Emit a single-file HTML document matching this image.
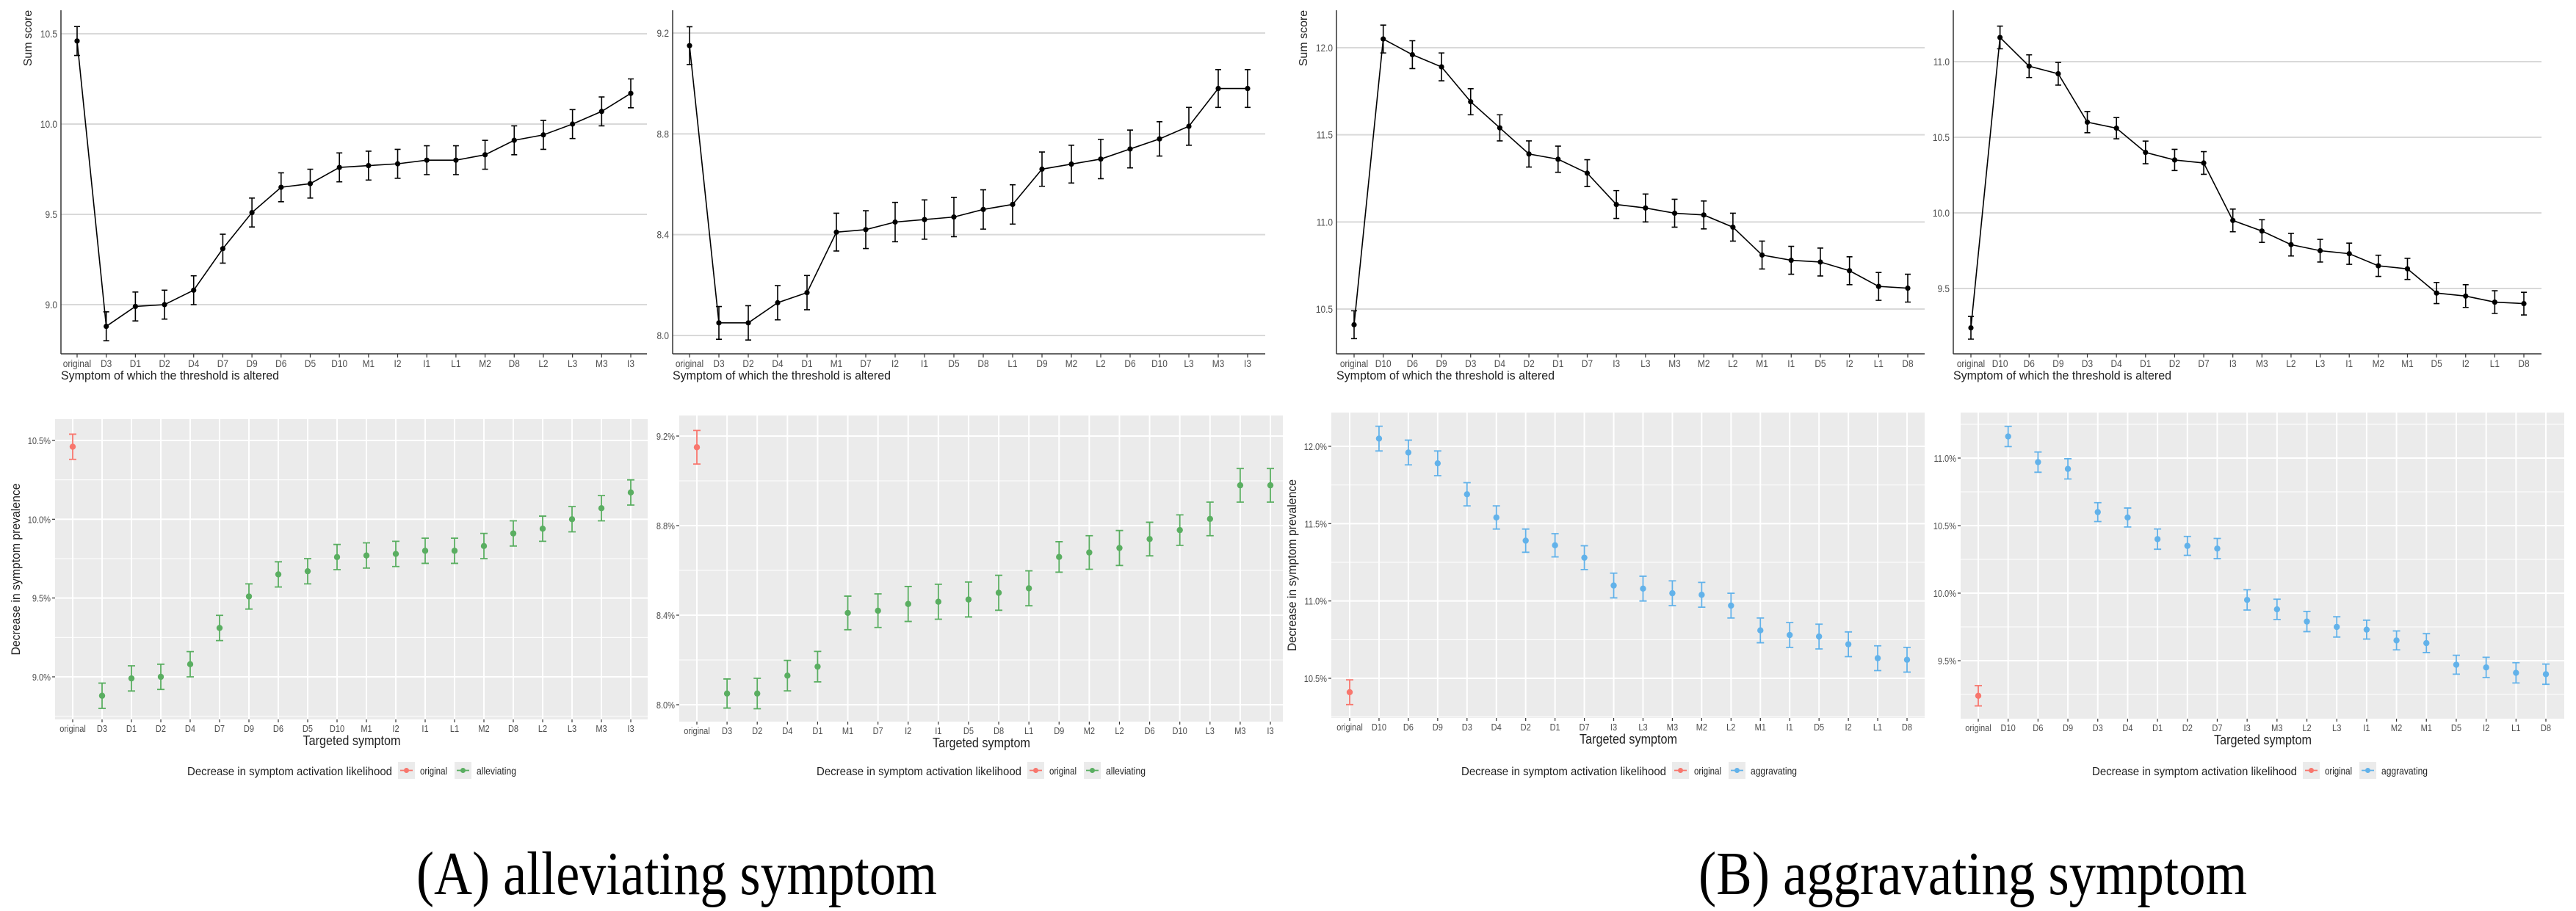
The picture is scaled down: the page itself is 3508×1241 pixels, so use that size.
<!DOCTYPE html>
<html><head><meta charset="utf-8">
<style>
html,body{margin:0;padding:0;background:#fff;}
svg{display:block;}
text{font-family:"Liberation Sans Narrow","Liberation Sans",sans-serif;}
</style></head>
<body>
<svg id="fig" width="3508" height="1241" viewBox="0 0 3508 1241" xmlns="http://www.w3.org/2000/svg">
<text x="567" y="1218" style="font-family:'Liberation Serif',serif" font-size="84" textLength="709" lengthAdjust="spacingAndGlyphs">(A) alleviating symptom</text>
<text x="2313" y="1218" style="font-family:'Liberation Serif',serif" font-size="84" textLength="747" lengthAdjust="spacingAndGlyphs">(B) aggravating symptom</text>
</svg>
<script>
// ---- data ----
const cats1 = ["original","D3","D1","D2","D4","D7","D9","D6","D5","D10","M1","I2","I1","L1","M2","D8","L2","L3","M3","I3"];
const vals1 = [10.46,8.88,8.99,9.00,9.08,9.31,9.51,9.65,9.67,9.76,9.77,9.78,9.80,9.80,9.83,9.91,9.94,10.00,10.07,10.17];
const errs1 = [0.08,0.08,0.08,0.08,0.08,0.08,0.08,0.08,0.08,0.08,0.08,0.08,0.08,0.08,0.08,0.08,0.08,0.08,0.08,0.08];

const cats2 = ["original","D3","D2","D4","D1","M1","D7","I2","I1","D5","D8","L1","D9","M2","L2","D6","D10","L3","M3","I3"];
const vals2 = [9.15,8.05,8.05,8.13,8.17,8.41,8.42,8.45,8.46,8.47,8.50,8.52,8.66,8.68,8.70,8.74,8.78,8.83,8.98,8.98];
const errs2 = [0.075,0.065,0.068,0.068,0.068,0.075,0.075,0.078,0.078,0.078,0.078,0.078,0.068,0.075,0.078,0.075,0.068,0.075,0.075,0.075];

const cats3 = ["original","D10","D6","D9","D3","D4","D2","D1","D7","I3","L3","M3","M2","L2","M1","I1","D5","I2","L1","D8"];
const vals3 = [10.41,12.05,11.96,11.89,11.69,11.54,11.39,11.36,11.28,11.10,11.08,11.05,11.04,10.97,10.81,10.78,10.77,10.72,10.63,10.62];
const errs3 = [0.08,0.08,0.08,0.08,0.075,0.075,0.075,0.075,0.077,0.08,0.08,0.08,0.08,0.08,0.08,0.08,0.08,0.08,0.08,0.08];

const cats4 = ["original","D10","D6","D9","D3","D4","D1","D2","D7","I3","M3","L2","L3","I1","M2","M1","D5","I2","L1","D8"];
const vals4 = [9.24,11.16,10.97,10.92,10.60,10.56,10.40,10.35,10.33,9.95,9.88,9.79,9.75,9.73,9.65,9.63,9.47,9.45,9.41,9.40];
const errs4 = [0.075,0.075,0.075,0.075,0.07,0.07,0.075,0.07,0.075,0.075,0.075,0.075,0.075,0.07,0.07,0.07,0.07,0.075,0.075,0.075];

const ticksTop1 = [9.0,9.5,10.0,10.5];
const ticksTop2 = [8.0,8.4,8.8,9.2];
const ticksTop3 = [10.5,11.0,11.5,12.0];
const ticksTop4 = [9.5,10.0,10.5,11.0];
const tickLabels1 = ["9.0","9.5","10.0","10.5"];
const tickLabels2 = ["8.0","8.4","8.8","9.2"];
const tickLabels3 = ["10.5","11.0","11.5","12.0"];
const tickLabels4 = ["9.5","10.0","10.5","11.0"];
const pctLabels1 = ["9.0%","9.5%","10.0%","10.5%"];
const pctLabels2 = ["8.0%","8.4%","8.8%","9.2%"];
const pctLabels3 = ["10.5%","11.0%","11.5%","12.0%"];
const pctLabels4 = ["9.5%","10.0%","10.5%","11.0%"];
const seriesNames = ["alleviating","alleviating","aggravating","aggravating"];

const NS = "http://www.w3.org/2000/svg";
const svg = document.getElementById("fig");
function mk(tag, attrs, parent){
  const e = document.createElementNS(NS, tag);
  for (const k in attrs) e.setAttribute(k, attrs[k]);
  (parent||svg).appendChild(e);
  return e;
}
function scaleY(v0,p0,v1,p1){ return v => p0 + (v - v0)*(p1 - p0)/(v1 - v0); }
function scaleX(x0,x1,n){ return i => x0 + i*(x1 - x0)/(n - 1); }
const SQ = "scale(0.85,1)";

// ---- top panels (line charts) ----
function drawTop(c, cats, vals, errs, ticks, labels){
  const g = mk("g", {});
  
  
  const y = scaleY(ticks[0], c.pLo, ticks[ticks.length-1], c.pHi);
  const x = scaleX(c.x0, c.x1, cats.length);
  ticks.forEach((t,i) => {
    const gl = mk("line", {x1:c.ax, x2:c.xEnd, y1:y(t), y2:y(t), stroke:"#d9d9d9", "stroke-width":2}, g);
    
    
    const tl = mk("text", {x:(c.ax-5)/0.85, y:y(t)+5, "text-anchor":"end", "font-size":14, fill:"#4d4d4d", transform:SQ}, g);
    tl.textContent = labels[i];
    
    
  });
  const ya = mk("line", {x1:c.ax, x2:c.ax, y1:14, y2:482, stroke:"#333", "stroke-width":1.5}, g);
  
  
  const xa = mk("line", {x1:c.ax, x2:c.xEnd, y1:482, y2:482, stroke:"#333", "stroke-width":1.5}, g);
  
  
  let d = "";
  vals.forEach((v,i) => { d += (i ? "L" : "M") + x(i) + "," + y(v); });
  const path = mk("path", {d:d, fill:"none", stroke:"#000", "stroke-width":1.6}, g);
  
  
  vals.forEach((v,i) => {
    const xi = x(i), lo = y(v - errs[i]), hi = y(v + errs[i]);
    const eb = mk("path", {d:`M${xi},${lo}V${hi}M${xi-4},${lo}H${xi+4}M${xi-4},${hi}H${xi+4}`, stroke:"#000", "stroke-width":1.6, fill:"none"}, g);
    
    
    const pt = mk("circle", {cx:xi, cy:y(v), r:3.6, fill:"#000"}, g);
    
    
    const tk = mk("line", {x1:xi, x2:xi, y1:482, y2:487, stroke:"#333", "stroke-width":1.2}, g);
    
    
    const lb = mk("text", {x:xi/0.85, y:500, "text-anchor":"middle", "font-size":14, fill:"#4d4d4d", transform:SQ}, g);
    lb.textContent = cats[i];
    
    
  });
  const xt = mk("text", {x:c.ax, y:517, "font-size":17, fill:"#222", textLength:297, lengthAdjust:"spacingAndGlyphs"}, g);
  xt.textContent = "Symptom of which the threshold is altered";
  
  
  if (c.ytitle){
    const yt = mk("text", {x:0, y:0, "font-size":16, fill:"#222", "text-anchor":"middle", transform:`translate(${c.ax-40},52) rotate(-90)`, style:"font-family:'Liberation Sans',sans-serif"}, g);
    yt.textContent = "Sum score";
    
    
  }
}

// ---- bottom panels (ggplot point charts) ----
function drawBottom(c, cats, vals, errs, ticks, labels, sname){
  const g = mk("g", {});
  
  
  const y = scaleY(ticks[0], c.pLo, ticks[ticks.length-1], c.pHi);
  const x = scaleX(c.x0, c.x1, cats.length);
  const col = sname === "alleviating" ? "#5aae61" : "#62b2ea";
  const bg = mk("rect", {x:c.bx0, y:c.by0, width:c.bx1-c.bx0, height:c.by1-c.by0, fill:"#ebebeb"}, g);
  
  
  const step = ticks[1] - ticks[0];
  for (let k = -2; k < ticks.length + 2; k++){
    const yy = y(ticks[0] + (k + 0.5)*step);
    if (yy > c.by0 && yy < c.by1){
      const mg = mk("line", {x1:c.bx0, x2:c.bx1, y1:yy, y2:yy, stroke:"#fff", "stroke-width":1}, g);
      
      
    }
  }
  ticks.forEach((t,i) => {
    const gl = mk("line", {x1:c.bx0, x2:c.bx1, y1:y(t), y2:y(t), stroke:"#fff", "stroke-width":2}, g);
    
    
    const tk = mk("line", {x1:c.bx0-4, x2:c.bx0, y1:y(t), y2:y(t), stroke:"#333", "stroke-width":1.2}, g);
    
    
    const tl = mk("text", {x:(c.bx0-6)/0.85, y:y(t)+5, "text-anchor":"end", "font-size":13, fill:"#4d4d4d", transform:SQ}, g);
    tl.textContent = labels[i];
    
    
  });
  cats.forEach((cat,i) => {
    const xi = x(i);
    const vg = mk("line", {x1:xi, x2:xi, y1:c.by0, y2:c.by1, stroke:"#fff", "stroke-width":2}, g);
    
    
  });
  vals.forEach((v,i) => {
    const xi = x(i), lo = y(v - errs[i]), hi = y(v + errs[i]);
    const cc = i === 0 ? "#f8766d" : col;
    const eb = mk("path", {d:`M${xi},${lo}V${hi}M${xi-5},${lo}H${xi+5}M${xi-5},${hi}H${xi+5}`, stroke:cc, "stroke-width":1.8, fill:"none"}, g);
    
    
    const pt = mk("circle", {cx:xi, cy:y(v), r:4.2, fill:cc}, g);
    
    
    const tk = mk("line", {x1:xi, x2:xi, y1:c.by1, y2:c.by1+4, stroke:"#333", "stroke-width":1.2}, g);
    
    
    const lb = mk("text", {x:xi/0.85, y:c.by1+17, "text-anchor":"middle", "font-size":13, fill:"#4d4d4d", transform:SQ}, g);
    lb.textContent = cats[i];
    
    
  });
  const xt = mk("text", {x:(c.bx0+c.bx1)/2 - 66, y:c.by1+35, "font-size":18, fill:"#222", textLength:133, lengthAdjust:"spacingAndGlyphs"}, g);
  xt.textContent = "Targeted symptom";
  
  
  if (c.ytitle){
    const yt = mk("text", {x:-117, y:0, "font-size":17, fill:"#222", textLength:234, lengthAdjust:"spacingAndGlyphs", transform:`translate(${c.bx0-48},${(c.by0+c.by1)/2}) rotate(-90)`, style:"font-family:'Liberation Sans',sans-serif"}, g);
    yt.textContent = "Decrease in symptom prevalence";
    
    
  }
  // legend
  const lg = mk("g", {}, g);
  
  
  const lt = mk("text", {x:c.lx, y:1056, "font-size":16, fill:"#222", textLength:279, lengthAdjust:"spacingAndGlyphs"}, lg);
  lt.textContent = "Decrease in symptom activation likelihood";
  
  
  const k1 = c.lx + 287;
  const entries = [["original","#f8766d",k1,37],[sname,col,k1+77,sname === "alleviating" ? 54 : 63]];
  entries.forEach(en => {
    const kb = mk("rect", {x:en[2], y:1038, width:23, height:23, fill:"#ebebeb"}, lg);
    
    
    const kl = mk("line", {x1:en[2]+3, x2:en[2]+20, y1:1049.5, y2:1049.5, stroke:en[1], "stroke-width":1.8}, lg);
    
    
    const kp = mk("circle", {cx:en[2]+11.5, cy:1049.5, r:3.5, fill:en[1]}, lg);
    
    
    const tx = mk("text", {x:en[2]+30, y:1055, "font-size":14, fill:"#222", textLength:en[3], lengthAdjust:"spacingAndGlyphs"}, lg);
    tx.textContent = en[0];
    
    
  });
}

drawTop({id:"a1", ax:83, xEnd:881, x0:105, x1:859, pLo:415, pHi:46, ytitle:true}, cats1, vals1, errs1, ticksTop1, tickLabels1);
drawTop({id:"a2", ax:916, xEnd:1723, x0:939, x1:1699, pLo:457, pHi:45, ytitle:false}, cats2, vals2, errs2, ticksTop2, tickLabels2);
drawTop({id:"b1", ax:1820, xEnd:2621, x0:1844, x1:2598, pLo:421, pHi:65, ytitle:true}, cats3, vals3, errs3, ticksTop3, tickLabels3);
drawTop({id:"b2", ax:2660, xEnd:3461, x0:2684, x1:3437, pLo:393, pHi:84, ytitle:false}, cats4, vals4, errs4, ticksTop4, tickLabels4);

drawBottom({id:"a1", bx0:75, bx1:882, by0:571, by1:980, x0:99, x1:859, pLo:922, pHi:600, ytitle:true, lx:255}, cats1, vals1, errs1, ticksTop1, pctLabels1, seriesNames[0]);
drawBottom({id:"a2", bx0:925, bx1:1747, by0:566, by1:983, x0:949, x1:1730, pLo:960, pHi:594, ytitle:false, lx:1112}, cats2, vals2, errs2, ticksTop2, pctLabels2, seriesNames[1]);
drawBottom({id:"b1", bx0:1813, bx1:2621, by0:562, by1:978, x0:1838, x1:2597, pLo:924, pHi:608, ytitle:true, lx:1990}, cats3, vals3, errs3, ticksTop3, pctLabels3, seriesNames[2]);
drawBottom({id:"b2", bx0:2670, bx1:3492, by0:562, by1:979, x0:2694, x1:3467, pLo:900, pHi:624, ytitle:false, lx:2849}, cats4, vals4, errs4, ticksTop4, pctLabels4, seriesNames[3]);
</script>
</body></html>
